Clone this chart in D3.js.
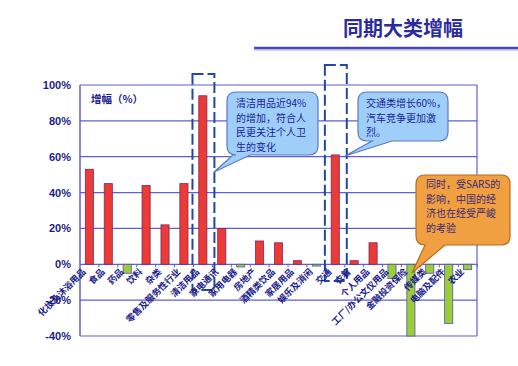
<!DOCTYPE html>
<html><head><meta charset="utf-8">
<script src="https://cdn.jsdelivr.net/npm/d3@7/dist/d3.min.js"></script>
<style>body{margin:0;background:#fff;}svg{display:block;font-family:"Noto Sans CJK SC","Noto Sans",sans-serif;}</style>
</head><body><svg id="c" width="518" height="366"></svg>
<script>
const categories = ["化妆及沐浴用品","食品","药品","饮料","杂类","零售及服务性行业","清洁用品","家电通讯","家用电器","房地产","酒精类饮品","家居用品","娱乐及消闲","交通","衣着","个人用品","工厂/办公文仪用品","金融投资保险","传媒类","电脑及配件","农业"];
const values = [53,45,-5,44,22,45,94,20,-1.5,13,12,2,-1,61,2,12,-8,-40,-5,-33,-3];
const yTicks = [100,80,60,40,20,0,-20,-40];
const title = "同期大类增幅";
const yTitle = "增幅（%）";
const notes = [
  {lines:["清洁用品近94%","的增加，符合人","民更关注个人卫","生的变化"]},
  {lines:["交通类增长60%，","汽车竞争更加激","烈。"]},
  {lines:["同时，受SARS的","影响，中国的经","济也在经受严峻","的考验"]}
];

const svg = d3.select("#c");
const L=80,R=477,T=85,B=336;
const x = d3.scaleBand().domain(categories).range([L,R]).paddingInner(0.57).paddingOuter(0.28);
const y = d3.scaleLinear().domain([-40,100]).range([B,T]);
const grid="#5f5fcf", txt="#1c1c8a";

// title
svg.append("text").attr("x",343).attr("y",36).attr("font-size",20).attr("font-weight","bold").attr("fill","#2b2b9c").text(title);
svg.append("line").attr("x1",254).attr("x2",518).attr("y1",48).attr("y2",48).attr("stroke","#4848b0").attr("stroke-width",2.5);
svg.append("line").attr("x1",254).attr("x2",518).attr("y1",50).attr("y2",50).attr("stroke","#a0a0dd").attr("stroke-width",1);

// grid
svg.append("g").selectAll("line").data(yTicks).join("line")
  .attr("x1",L).attr("x2",R).attr("y1",d=>y(d)).attr("y2",d=>y(d))
  .attr("stroke",grid).attr("stroke-width",1.2);
svg.append("line").attr("x1",L).attr("x2",L).attr("y1",T).attr("y2",B).attr("stroke",grid).attr("stroke-width",1.5);
svg.append("line").attr("x1",R).attr("x2",R).attr("y1",T).attr("y2",B).attr("stroke",grid).attr("stroke-width",1.2);

// y axis labels
const yAxis = d3.axisLeft(y).tickValues(yTicks).tickSize(0).tickPadding(9).tickFormat(d=>d+"%");
const ga = svg.append("g").attr("transform",`translate(${L},0)`).call(yAxis);
ga.select(".domain").remove();
ga.selectAll("text").attr("font-size",11).attr("font-weight","bold").attr("fill",txt).attr("font-family","Arial,'Liberation Sans',sans-serif");

// x axis ticks at 0
const step = x.step();
svg.append("g").selectAll("line").data(categories).join("line")
  .attr("x1",d=>x(d)-x.paddingOuter()*step+step).attr("x2",d=>x(d)-x.paddingOuter()*step+step)
  .attr("y1",y(0)).attr("y2",y(0)+3).attr("stroke",grid);

svg.append("text").attr("x",91).attr("y",103).attr("font-size",10.5).attr("font-weight","bold").attr("fill",txt).text(yTitle);

// dashed boxes
function dashBox(cat,top,bottom){
  const x0 = x(cat)-x.paddingOuter()*step-1, x1 = x0+step+3;
  svg.append("rect").attr("x",x0).attr("y",top).attr("width",x1-x0).attr("height",bottom-top)
    .attr("fill","none").attr("stroke","#2446a8").attr("stroke-width",2).attr("stroke-dasharray","11,4");
}

// bars
svg.append("g").selectAll("rect").data(values).join("rect")
  .attr("x",(d,i)=>x(categories[i])).attr("width",x.bandwidth())
  .attr("y",d=>y(Math.max(0,d))).attr("height",d=>Math.abs(y(d)-y(0)))
  .attr("fill",d=>d>=0?"#ec3a35":"#9dcc3a").attr("stroke",d=>d>=0?"#7a2a6a":"#4a5aa8").attr("stroke-width",0.8);

dashBox("清洁用品",74,290);
dashBox("交通",65,281);

// x labels
svg.append("g").selectAll("text").data(categories).join("text")
  .attr("transform",d=>`translate(${x(d)+x.bandwidth()/2-3},${y(0)+8}) rotate(-45)`)
  .attr("text-anchor","end").attr("font-size",9).attr("font-weight","bold").attr("fill",txt)
  .text(d=>d);

// callouts
function callout(box,tip,base,fill,stroke,lines,tx,ty,lh,color){
  const [x0,y0,x1,y1]=box, r=9;
  const p=d3.path();
  p.moveTo(x0+r,y0); p.lineTo(x1-r,y0); p.quadraticCurveTo(x1,y0,x1,y0+r);
  p.lineTo(x1,y1-r); p.quadraticCurveTo(x1,y1,x1-r,y1);
  p.lineTo(base[1],y1); p.lineTo(tip[0],tip[1]); p.lineTo(base[0],y1);
  p.lineTo(x0+r,y1); p.quadraticCurveTo(x0,y1,x0,y1-r);
  p.lineTo(x0,y0+r); p.quadraticCurveTo(x0,y0,x0+r,y0); p.closePath();
  svg.append("path").attr("d",p.toString()).attr("fill",fill).attr("stroke",stroke).attr("stroke-width",1.2);
  const t = svg.append("text").attr("font-size",10).attr("fill",color);
  t.selectAll("tspan").data(lines).join("tspan")
    .attr("x",tx).attr("y",(d,i)=>ty+i*lh).text(d=>d);
}
callout([227,92,318,155],[214,172],[233,250],"#9fcff8","#5a78c8",notes[0].lines,236,107,14.5,"#1c1c9a");
callout([358,92,448,141],[345,156],[372,392],"#9fcff8","#5a78c8",notes[1].lines,366,107,14.5,"#1c1c9a");
callout([416,175,510,245],[412,273],[425,445],"#f0a040","#b86a20",notes[2].lines,426,188,14.5,"#3a2a7a");
</script></body></html>
